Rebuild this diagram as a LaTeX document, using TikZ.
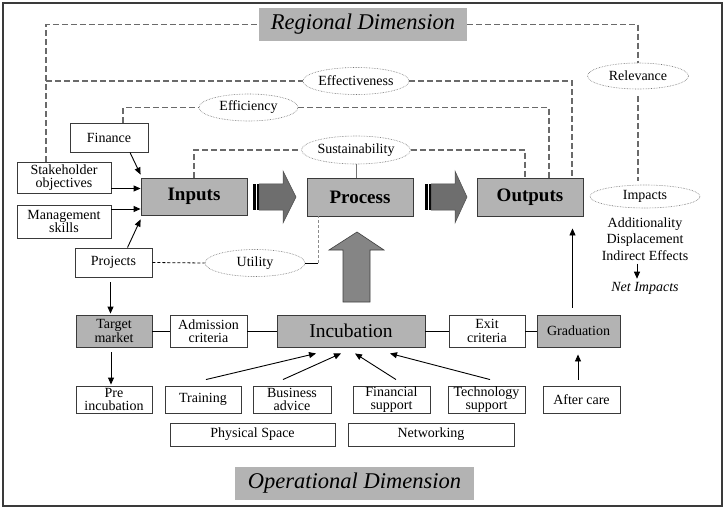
\documentclass[tikz,border=0pt]{standalone}
\usepackage{fontspec}
\setmainfont{Liberation Serif}
\usetikzlibrary{arrows.meta,shapes.geometric}
\definecolor{boxgray}{HTML}{B3B3B3}
\definecolor{arrowgray}{HTML}{6E6E6E}
\definecolor{uparrowgray}{HTML}{858585}
\definecolor{dashgray}{HTML}{6A6A6A}
\definecolor{framegray}{HTML}{3A3A3A}

\begin{document}
\begin{tikzpicture}[x=1pt,y=-1pt,
  every node/.style={font=\fontsize{14}{13.5}\selectfont, align=center, inner sep=0pt},
  box/.style={draw=framegray, line width=0.9pt, fill=white, rectangle},
  gbox/.style={box, fill=boxgray},
  bigbox/.style={gbox, font=\fontsize{19}{19}\selectfont\bfseries},
  dimbox/.style={rectangle, fill=boxgray, font=\fontsize{22.5}{22.5}\selectfont\itshape},
  oval/.style={ellipse, draw=black!55, densely dotted, line width=0.6pt, fill=white},
  dline/.style={draw=dashgray, line width=1.1pt, dash pattern=on 6pt off 3pt},
  fdline/.style={draw=black, line width=0.8pt, dash pattern=on 3pt off 2pt},
  arr/.style={draw=black, line width=0.9pt, -{Triangle[length=7pt,width=6pt]}},
  link/.style={draw=black, line width=0.9pt},
  blockarrow/.style={fill=arrowgray, draw=arrowgray!70!black, line width=0.5pt}
]
\useasboundingbox (0,0) rectangle (726,508);
\fill[white] (0,0) rectangle (726,508);
\draw[framegray, line width=1.2pt] (3,3) rectangle (722,506);

% dimension labels
\node[dimbox, minimum width=208pt, minimum height=33pt] (regional) at (363,24.5) {Regional Dimension};
\node[dimbox, minimum width=239pt, minimum height=33pt] (operational) at (354.5,483.5) {Operational Dimension};

% input side boxes
\node[box, minimum width=78pt, minimum height=29pt] (finance) at (109,137.5) {Finance};
\node[box, minimum width=94pt, minimum height=31pt] (stake) at (64,177.5) {Stakeholder\\objectives};
\node[box, minimum width=94pt, minimum height=33pt] (manage) at (64,221.5) {Management\\skills};
\node[box, minimum width=77pt, minimum height=29pt] (projects) at (113.5,262.5) {Projects};

% main chain
\node[bigbox, minimum width=106pt, minimum height=37pt] (inputs) at (194,196.5) {Inputs};
\node[bigbox, minimum width=106pt, minimum height=38pt] (process) at (360,197) {Process};
\node[bigbox, minimum width=106pt, minimum height=38pt] (outputs) at (530,197) {Outputs};

% evaluation criteria
\node[oval, minimum width=100pt, minimum height=27pt] (effect) at (356,81) {Effectiveness};
\node[oval, minimum width=99pt, minimum height=27pt] (effic) at (248.5,107.5) {Efficiency};
\node[oval, minimum width=102pt, minimum height=28pt] (sustain) at (356,150) {Sustainability};
\node[oval, minimum width=101pt, minimum height=26pt] (relevance) at (638,76) {Relevance};
\node[oval, minimum width=100pt, minimum height=27pt] (utility) at (255,263) {Utility};
\node[oval, minimum width=110pt, minimum height=23pt] (impacts) at (645,196.5) {Impacts};

% impact terms
\node[font=\fontsize{14}{16.5}\selectfont] (impterms) at (645,239) {Additionality\\Displacement\\Indirect Effects};
\node[font=\fontsize{14}{14}\selectfont\itshape] (netimp) at (645,288) {Net Impacts};

% operational row
\node[gbox, minimum width=76pt, minimum height=32pt] (target) at (114,331) {Target\\market};
\node[box, minimum width=77pt, minimum height=32pt] (admission) at (208.5,331) {Admission\\criteria};
\node[gbox, minimum width=148pt, minimum height=32pt, font=\fontsize{19.5}{19.5}\selectfont] (incub) at (351,331) {Incubation};
\node[box, minimum width=76pt, minimum height=32pt] (exit) at (487,331) {Exit\\criteria};
\node[gbox, minimum width=83pt, minimum height=32pt] (grad) at (578.5,331) {Graduation};

% services
\node[box, minimum width=76pt, minimum height=27pt] (preinc) at (114,399.5) {Pre\\incubation};
\node[box, minimum width=76pt, minimum height=27pt] (training) at (203,399.5) {Training};
\node[box, minimum width=78pt, minimum height=27pt] (business) at (292,399.5) {Business\\advice};
\node[box, minimum width=77pt, minimum height=27pt] (financial) at (391.5,399.5) {Financial\\support};
\node[box, minimum width=77pt, minimum height=27pt] (techsup) at (486.5,399.5) {Technology\\support};
\node[box, minimum width=77pt, minimum height=27pt] (aftercare) at (581.5,399.5) {After care};
\node[box, minimum width=165pt, minimum height=23pt] (physical) at (252.5,434.5) {Physical Space};
\node[box, minimum width=166pt, minimum height=23pt] (network) at (431,434.5) {Networking};

% block arrows between stages
\fill[black] (253,184) rectangle (255.5,210);
\fill[black] (256.5,184) rectangle (259,210);
\path[blockarrow] (259,184) -- (283,184) -- (283,171) -- (296,197) -- (283,223) -- (283,210) -- (259,210) -- cycle;
\fill[black] (425,184) rectangle (427.5,210);
\fill[black] (428.5,184) rectangle (431,210);
\path[blockarrow] (431,184) -- (455,184) -- (455,171) -- (467,197) -- (455,223) -- (455,210) -- (431,210) -- cycle;
\path[fill=uparrowgray, draw=black!75, line width=0.6pt] (343,302) -- (343,250) -- (329,250) -- (357,232) -- (384,250) -- (370,250) -- (370,302) -- cycle;

% regional dashed links
\draw[dline] ([xshift=-18pt]stake.north) |- (regional.west);
\draw[dline] (regional.east) -| (relevance.north);
\draw[dline, shorten <=7pt, shorten >=4pt] (relevance.south) -- (relevance.south |- impacts.north);
\draw[dline] ([xshift=-18pt]stake.north |- effect.west) -- (effect.west);
\draw[dline] (effect.east) -| ([xshift=42pt]outputs.north);
\draw[dline] ([xshift=14pt]finance.north) |- (effic.west);
\draw[dline] (effic.east) -| ([xshift=19pt]outputs.north);
\draw[dline] (inputs.north) |- (sustain.west);
\draw[dline] (sustain.east) -| ([xshift=-5pt]outputs.north);
\draw[draw=black!55, line width=0.9pt] (sustain.south) -- (sustain.south |- process.north);

% utility link
\coordinate (ucorner) at ([xshift=-42pt]process.south |- utility.east);
\draw[fdline] (projects.east) -- (utility.west);
\draw[link] (utility.east) -- (ucorner);
\draw[draw=black!45, line width=0.9pt, dash pattern=on 3pt off 2pt] (ucorner) -- ([xshift=-42pt]process.south);

% inputs
\draw[arr] ([xshift=21pt]finance.south) -- ([yshift=3pt]inputs.north west);
\draw[arr] ([yshift=-11pt]stake.east) -- ([yshift=-11pt]stake.east -| inputs.west);
\draw[arr] ([yshift=12.5pt]manage.east) -- ([yshift=12.5pt]manage.east -| inputs.west);
\draw[arr] ([xshift=14pt]projects.north) -- ([yshift=-4pt]inputs.south west);

% operational chain
\draw[arr, shorten <=5pt, shorten >=1pt] ([xshift=-3pt]projects.south) -- ([xshift=-3pt]projects.south |- target.north);
\draw[arr, shorten <=5pt, shorten >=1pt] ([xshift=-3pt]target.south) -- ([xshift=-3pt]target.south |- preinc.north);
\draw[link] (target.east) -- (admission.west);
\draw[link] (admission.east) -- (incub.west);
\draw[link] (incub.east) -- (exit.west);
\draw[link] (exit.east) -- (grad.west);

% services to incubation
\draw[arr] ([xshift=3pt,yshift=6pt]training.north) -- ([xshift=-35pt,yshift=-6pt]incub.south);
\draw[arr] ([xshift=-9pt,yshift=6pt]business.north) -- ([xshift=-10pt,yshift=-6pt]incub.south);
\draw[arr] ([xshift=4.5pt,yshift=6pt]financial.north) -- ([xshift=4pt,yshift=-6pt]incub.south);
\draw[arr] ([xshift=3.5pt,yshift=6pt]techsup.north) -- ([xshift=39pt,yshift=-6pt]incub.south);

% graduation
\draw[arr, shorten <=6pt, shorten >=7pt] ([xshift=-3.5pt]aftercare.north) -- ([xshift=-3.5pt]aftercare.north |- grad.south);
\coordinate (gradtop) at ([xshift=-6pt,yshift=7pt]grad.north);
\draw[arr, shorten >=12pt] (gradtop) -- (gradtop |- outputs.south);

% impacts
\draw[arr, shorten <=3pt, shorten >=3pt] ([xshift=-8pt]impterms.south) -- ([xshift=-8pt]impterms.south |- netimp.north);
\end{tikzpicture}
\end{document}
